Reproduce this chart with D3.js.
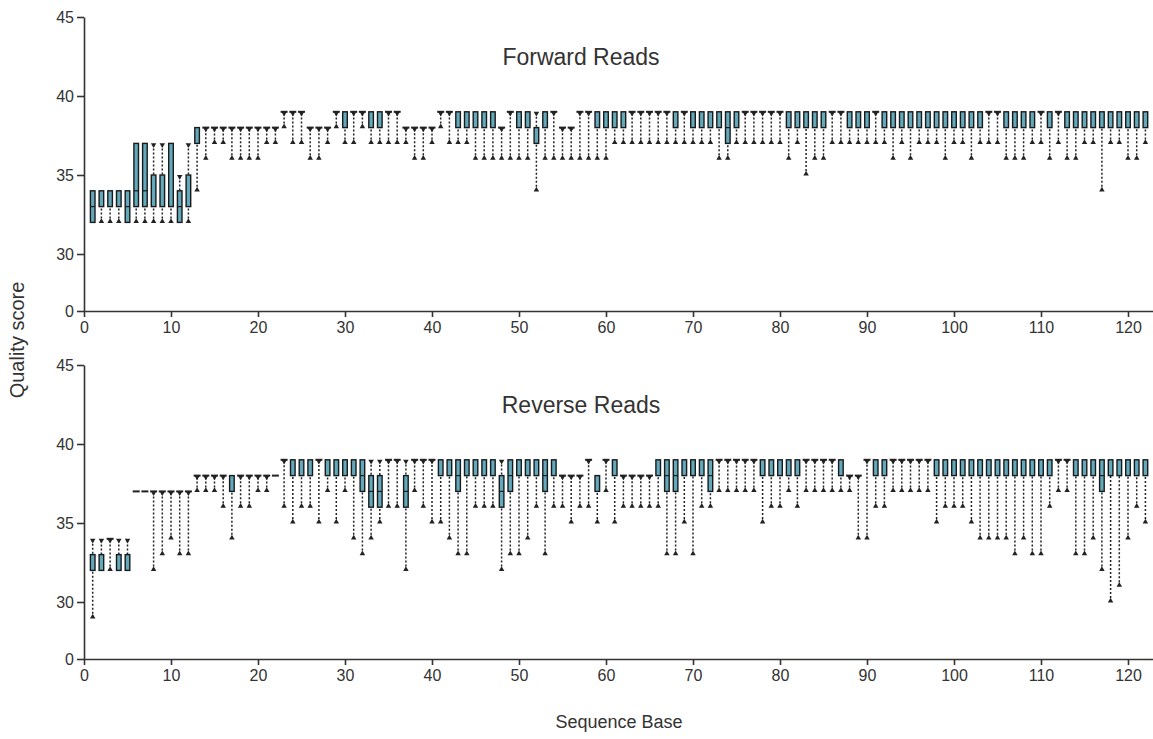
<!DOCTYPE html>
<html>
<head>
<meta charset="utf-8">
<script src="https://cdn.jsdelivr.net/npm/d3@7"></script>
<style>
  body { margin: 0; background: #fff; }
  svg { display: block; font-family: "Liberation Sans", Arial, sans-serif; }
  .axis path, .axis line { stroke: #333; stroke-width: 1.6; }
  .axis text { font-size: 16px; fill: #333; }
</style>
</head>
<body>
<div id="chart"></div>
<script>
// sequence base positions
const bases = d3.range(1, 123);

// forward reads: whisker low, q1, median, q3, whisker high (one value per base)
const fwdLo = [32,32,32,32,32,32,32,32,32,32, 32,32,34,36,37,37,36,36,36,36,
  37,37,38,37,37,36,36,37,38,37, 37,38,37,37,37,37,37,36,36,37,
  38,37,37,37,36,36,36,36,36,36, 36,34,36,36,36,36,36,36,36,36,
  37,37,37,37,37,37,37,37,37,37, 37,37,36,36,37,37,37,37,37,37,
  36,37,35,36,36,37,37,37,37,37, 37,37,36,37,36,37,37,37,36,37,
  37,36,37,37,37,36,36,36,37,37, 36,37,36,36,37,37,34,37,37,36, 36,37];
const fwdQ1 = [32,33,33,33,32,33,33,33,33,33, 32,33,37,38,38,38,38,38,38,38,
  38,38,39,39,39,38,38,38,39,38, 39,39,38,38,39,39,38,38,38,38,
  39,39,38,38,38,38,38,38,39,38, 38,37,38,39,38,38,39,39,38,38,
  38,38,39,39,39,39,39,38,39,38, 38,38,38,37,38,39,39,39,39,39,
  38,38,38,38,38,39,39,38,38,38, 39,38,38,38,38,38,38,38,38,38,
  38,38,38,39,39,38,38,38,38,39, 38,39,38,38,38,38,38,38,38,38, 38,38];
const fwdMed = [33,33,33,33,33,34,34,35,35,33, 33,35,38,38,38,38,38,38,38,38,
  38,38,39,39,39,38,38,38,39,39, 39,39,39,39,39,39,38,38,38,38,
  39,39,39,39,39,39,39,38,39,39, 39,38,39,39,38,38,39,39,39,39,
  39,39,39,39,39,39,39,39,39,39, 39,39,39,38,39,39,39,39,39,39,
  39,39,39,39,39,39,39,39,39,39, 39,39,39,39,39,39,39,39,39,39,
  39,39,39,39,39,39,39,39,39,39, 39,39,39,39,39,39,39,39,39,39, 39,39];
const fwdQ3 = [34,34,34,34,34,37,37,35,35,37, 34,35,38,38,38,38,38,38,38,38,
  38,38,39,39,39,38,38,38,39,39, 39,39,39,39,39,39,38,38,38,38,
  39,39,39,39,39,39,39,38,39,39, 39,38,39,39,38,38,39,39,39,39,
  39,39,39,39,39,39,39,39,39,39, 39,39,39,39,39,39,39,39,39,39,
  39,39,39,39,39,39,39,39,39,39, 39,39,39,39,39,39,39,39,39,39,
  39,39,39,39,39,39,39,39,39,39, 39,39,39,39,39,39,39,39,39,39, 39,39];
const fwdHi = [34,34,34,34,34,37,37,37,37,37, 35,37,38,38,38,38,38,38,38,38,
  38,38,39,39,39,38,38,38,39,39, 39,39,39,39,39,39,38,38,38,38,
  39,39,39,39,39,39,39,38,39,39, 39,39,39,39,38,38,39,39,39,39,
  39,39,39,39,39,39,39,39,39,39, 39,39,39,39,39,39,39,39,39,39,
  39,39,39,39,39,39,39,39,39,39, 39,39,39,39,39,39,39,39,39,39,
  39,39,39,39,39,39,39,39,39,39, 39,39,39,39,39,39,39,39,39,39, 39,39];

// reverse reads
const revLo = [29,32,32,32,32,37,37,32,33,34, 33,33,37,37,37,36,34,36,36,37,
  37,38,36,35,36,36,35,37,35,37, 34,33,34,35,36,36,32,37,36,35,
  35,34,33,33,36,36,36,32,33,33, 34,36,33,36,36,35,36,36,35,37,
  35,36,36,36,36,36,33,33,35,33, 36,36,37,37,37,37,37,35,36,36,
  37,36,37,37,37,37,37,37,34,34, 36,36,37,37,37,37,37,35,36,36,
  36,35,34,34,34,34,33,34,33,33, 36,37,37,33,33,34,32,30,31,34, 36,35];
const revQ1 = [32,32,34,32,32,37,37,37,37,37, 37,37,38,38,38,38,37,38,38,38,
  38,38,39,38,38,38,39,38,38,38, 38,37,36,36,39,39,36,39,39,39,
  38,38,37,38,38,38,38,36,37,38, 38,38,37,38,38,38,38,39,37,39,
  38,38,38,38,38,38,37,37,38,38, 38,37,39,39,39,39,39,38,38,38,
  38,38,39,39,39,39,38,38,38,39, 38,38,39,39,39,39,39,38,38,38,
  38,38,38,38,38,38,38,38,38,38, 38,39,39,38,38,38,37,38,38,38, 38,38];
const revMed = [33,33,34,33,33,37,37,37,37,37, 37,37,38,38,38,38,38,38,38,38,
  38,38,39,39,39,39,39,39,39,39, 39,38,37,37,39,39,37,39,39,39,
  39,39,38,39,39,39,39,37,38,39, 39,39,38,39,38,38,38,39,38,39,
  39,38,38,38,38,39,38,38,39,39, 39,38,39,39,39,39,39,39,39,39,
  39,39,39,39,39,39,39,38,38,39, 39,39,39,39,39,39,39,39,39,39,
  39,39,39,39,39,39,39,39,39,39, 39,39,39,39,39,39,38,39,39,39, 39,39];
const revQ3 = [33,33,34,33,33,37,37,37,37,37, 37,37,38,38,38,38,38,38,38,38,
  38,38,39,39,39,39,39,39,39,39, 39,39,38,38,39,39,38,39,39,39,
  39,39,39,39,39,39,39,38,39,39, 39,39,39,39,38,38,38,39,38,39,
  39,38,38,38,38,39,39,39,39,39, 39,39,39,39,39,39,39,39,39,39,
  39,39,39,39,39,39,39,38,38,39, 39,39,39,39,39,39,39,39,39,39,
  39,39,39,39,39,39,39,39,39,39, 39,39,39,39,39,39,39,39,39,39, 39,39];
const revHi = [34,34,34,34,34,37,37,37,37,37, 37,37,38,38,38,38,38,38,38,38,
  38,38,39,39,39,39,39,39,39,39, 39,39,39,39,39,39,39,39,39,39,
  39,39,39,39,39,39,39,39,39,39, 39,39,39,39,38,38,38,39,38,39,
  39,38,38,38,38,39,39,39,39,39, 39,39,39,39,39,39,39,39,39,39,
  39,39,39,39,39,39,39,38,38,39, 39,39,39,39,39,39,39,39,39,39,
  39,39,39,39,39,39,39,39,39,39, 39,39,39,39,39,39,39,39,39,39, 39,39];

const yTicks = [0, 30, 35, 40, 45];
const xTicks = [0, 10, 20, 30, 40, 50, 60, 70, 80, 90, 100, 110, 120];

const width = 1153, height = 739;
const panelShift = 348;
const boxW = 4.6;

const svg = d3.select("#chart")
  .append("svg")
    .attr("width", width)
    .attr("height", height);

const x = d3.scaleLinear()
  .domain([0, 123])
  .range([84, 84 + 123 * 8.7]);

const panels = [
  {title: "Forward Reads", shift: 0, lo: fwdLo, q1: fwdQ1, med: fwdMed, q3: fwdQ3, hi: fwdHi},
  {title: "Reverse Reads", shift: panelShift, lo: revLo, q1: revQ1, med: revMed, q3: revQ3, hi: revHi}
];

const tri = d3.symbol().type(d3.symbolTriangle).size(13);

panels.forEach(p => {

  // broken axis: linear from 28 to 45, then squeezed down to 0
  let y = d3.scaleLinear()
    .domain([0, 28, 45])
    .range([311 + p.shift, 285.6 + p.shift, 17 + p.shift]);

  let rows = bases.map((b, i) => ({
    b: b, lo: p.lo[i], q1: p.q1[i], med: p.med[i], q3: p.q3[i], hi: p.hi[i]
  }));

  let g = svg.append("g");

  g.append("text")
    .attr("x", 581)
    .attr("y", 65 + p.shift)
    .attr("text-anchor", "middle")
    .style("font-size", "23px")
    .style("fill", "#333")
    .text(p.title);

  // dotted whiskers
  g.selectAll("line.whisker")
    .data(rows.filter(d => d.hi > d.lo))
    .enter()
      .append("line")
      .attr("class", "whisker")
      .attr("x1", d => x(d.b))
      .attr("x2", d => x(d.b))
      .attr("y1", d => y(d.lo))
      .attr("y2", d => y(d.hi))
      .attr("stroke", "#222")
      .attr("stroke-width", 1.5)
      .attr("stroke-dasharray", "2,2");

  // whisker end markers
  g.selectAll("path.low")
    .data(rows.filter(d => d.lo < d.q1))
    .enter()
      .append("path")
      .attr("class", "low")
      .attr("d", tri)
      .attr("transform", d => "translate(" + x(d.b) + "," + (y(d.lo) - 1) + ")")
      .attr("fill", "#222");

  g.selectAll("path.high")
    .data(rows.filter(d => d.hi > d.q3 || (d.q3 == d.q1 && d.lo < d.q1)))
    .enter()
      .append("path")
      .attr("class", "high")
      .attr("d", tri)
      .attr("transform", d => "translate(" + x(d.b) + "," + (y(d.hi) + 1.5) + ") rotate(180)")
      .attr("fill", "#222");

  // boxes
  g.selectAll("rect.box")
    .data(rows.filter(d => d.q3 > d.q1))
    .enter()
      .append("rect")
      .attr("class", "box")
      .attr("x", d => x(d.b) - boxW / 2)
      .attr("width", boxW)
      .attr("y", d => y(d.q3))
      .attr("height", d => y(d.q1) - y(d.q3))
      .attr("fill", "#62a9bc")
      .attr("stroke", "#1a1a1a")
      .attr("stroke-width", 1.4);

  // medians inside boxes
  g.selectAll("line.median")
    .data(rows.filter(d => d.med > d.q1 && d.med < d.q3))
    .enter()
      .append("line")
      .attr("class", "median")
      .attr("x1", d => x(d.b) - boxW / 2)
      .attr("x2", d => x(d.b) + boxW / 2)
      .attr("y1", d => y(d.med))
      .attr("y2", d => y(d.med))
      .attr("stroke", "#1a1a1a")
      .attr("stroke-width", 1.2);

  // flat boxes drawn as a dash
  g.selectAll("line.flat")
    .data(rows.filter(d => d.q3 == d.q1))
    .enter()
      .append("line")
      .attr("class", "flat")
      .attr("x1", d => x(d.b) - 3.5)
      .attr("x2", d => x(d.b) + 3.5)
      .attr("y1", d => y(d.q1))
      .attr("y2", d => y(d.q1))
      .attr("stroke", "#222")
      .attr("stroke-width", 2);

  g.append("g")
    .attr("class", "axis")
    .attr("transform", "translate(84,0)")
    .call(d3.axisLeft(y).tickValues(yTicks).tickSize(7).tickSizeOuter(0).tickPadding(3));

  g.append("g")
    .attr("class", "axis")
    .attr("transform", "translate(0," + (311 + p.shift) + ")")
    .call(d3.axisBottom(x).tickValues(xTicks).tickSize(6).tickSizeOuter(0).tickPadding(5));
});

svg.append("text")
  .attr("x", 619)
  .attr("y", 728)
  .attr("text-anchor", "middle")
  .style("font-size", "18px")
  .style("fill", "#333")
  .text("Sequence Base");

svg.append("text")
  .attr("transform", "translate(24,340) rotate(-90)")
  .attr("text-anchor", "middle")
  .style("font-size", "20px")
  .style("fill", "#333")
  .text("Quality score");
</script>
</body>
</html>
